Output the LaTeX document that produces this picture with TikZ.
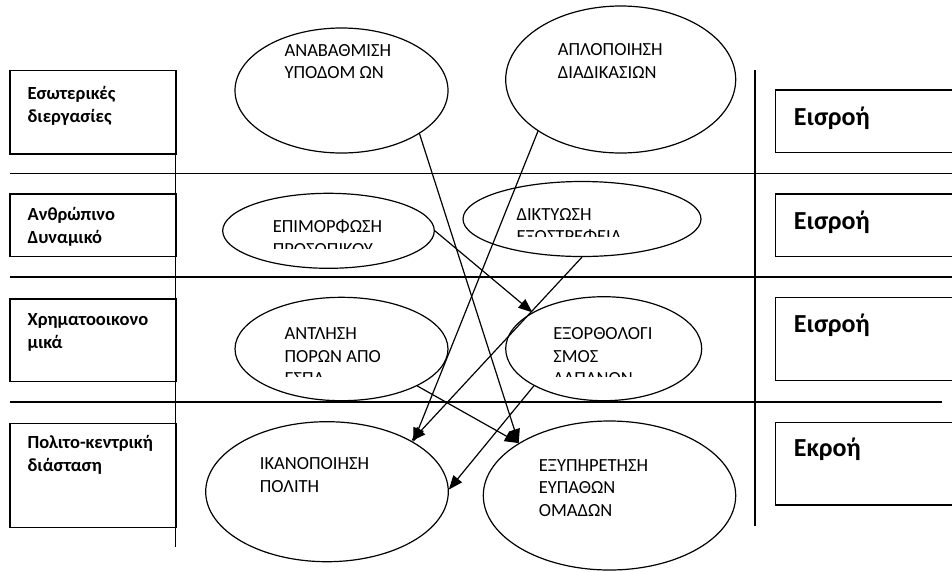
\documentclass[tikz,border=0pt]{standalone}
\usepackage{fontspec}
\setmainfont{Carlito}
\usetikzlibrary{shapes.geometric,arrows.meta}

\tikzset{
  goal/.style={ellipse, draw, inner sep=0pt},
  goaltext/.style={anchor=base west, align=left, inner sep=0pt, font=\fontsize{18.5}{22.7}\selectfont},
  sidebox/.style={rectangle, draw, anchor=north west, inner sep=0pt},
  sidetext/.style={anchor=base west, align=left, inner sep=0pt, font=\bfseries\fontsize{18.5}{23}\selectfont},
  flowtext/.style={anchor=base west, inner sep=0pt, font=\bfseries\fontsize{26}{30}\selectfont},
  link/.style={-{Triangle[length=14pt,width=11pt]}}
}

\begin{document}
\begin{tikzpicture}[x=1pt, y=-1pt, line width=1.2pt]
        \useasboundingbox (0,0) rectangle (952,571);

        % lanes
        \draw (10,173.3) -- (952,173.3);
        \draw (10,277) -- (952,277);
        \draw (10,402) -- (942,402);
        \draw (175.7,70) -- (175.7,547);
        \draw (755,70) -- (755,526);

        % left column
        \node[sidebox, minimum width=166.4pt, minimum height=83.3pt] (box1) at (9.3,70) {};
        \node[sidebox, minimum width=166.4pt, minimum height=62.7pt] (box2) at (9.3,193.3) {};
        \node[sidebox, minimum width=166.4pt, minimum height=82.7pt] (box3) at (9.3,298.3) {};
        \node[sidebox, minimum width=166.4pt, minimum height=104pt] (box4) at (9.3,422.7) {};
        % (base of a two-line node = its last line)
        \node[sidetext] (lab1) at (27,122.3) {Εσωτερικές\\διεργασίες};
        \node[sidetext] (lab2) at (27,243.7) {Ανθρώπινο\\Δυναμικό};
        \node[sidetext] (lab3) at (27,348) {Χρηματοοικονο\\μικά};
        \node[sidetext] (lab4) at (27,471.3) {Πολιτο-κεντρική\\διάσταση};

        % right column
        \node[sidebox, minimum width=190pt, minimum height=62.4pt] (inBox1) at (775,89.3) {};
        \node[sidebox, minimum width=190pt, minimum height=62.7pt] (inBox2) at (775,193.3) {};
        \node[sidebox, minimum width=190pt, minimum height=83.3pt] (inBox3) at (775,296.7) {};
        \node[sidebox, minimum width=190pt, minimum height=82.6pt] (outBox) at (775,421.7) {};
        \node[flowtext] (in1) at (793.3,125) {Εισροή};
        \node[flowtext] (in2) at (793.3,229.3) {Εισροή};
        \node[flowtext] (in3) at (793.3,332.7) {Εισροή};
        \node[flowtext] (out) at (793.3,456.7) {Εκροή};

        % goals
        \node[goal, minimum width=213pt, minimum height=125pt] (e1) at (341.5,90.5) {};
        \node[goal, minimum width=230pt, minimum height=147pt] (e2) at (620.7,79.5) {};
        \node[goal, minimum width=211.6pt, minimum height=75pt] (e3) at (328.5,230.8) {};
        \node[goal, minimum width=238pt, minimum height=75pt] (e4) at (582,219) {};
        \node[goal, minimum width=213pt, minimum height=103.4pt] (e5) at (341.5,349) {};
        \node[goal, minimum width=196pt, minimum height=104pt] (e6) at (603.7,348.7) {};
        \node[goal, minimum width=242.6pt, minimum height=140pt] (e7) at (327,491.7) {};
        \node[goal, minimum width=252.4pt, minimum height=149pt] (e8) at (609.5,495.5) {};

        \node[goaltext] (t1) at (284,78.7) {ΑΝΑΒΑΘΜΙΣΗ\\ΥΠΟΔΟΜ ΩΝ};
        \node[goaltext] (t2) at (557.3,78.4) {ΑΠΛΟΠΟΙΗΣΗ\\ΔΙΑΔΙΚΑΣΙΩΝ};
        \begin{scope}
          \clip (250,200) rectangle (460,248.3);
          \node[goaltext] (t3) at (272.3,255) {ΕΠΙΜΟΡΦΩΣΗ\\ΠΡΟΣΩΠΙΚΟΥ};
        \end{scope}
        \begin{scope}
          \clip (500,190) rectangle (700,236);
          \node[goaltext] (t4) at (516,242.7) {ΔΙΚΤΥΩΣΗ\\ΕΞΩΣΤΡΕΦΕΙΑ};
        \end{scope}
        \begin{scope}
          \clip (270,310) rectangle (440,376.7);
          \node[goaltext] (t5) at (284,384.7) {ΑΝΤΛΗΣΗ\\ΠΟΡΩΝ ΑΠΟ\\ΕΣΠΆ};
        \end{scope}
        \begin{scope}
          \clip (540,310) rectangle (700,376.7);
          \node[goaltext] (t6) at (552.7,384.7) {ΕΞΟΡΘΟΛΟΓΙ\\ΣΜΟΣ\\ΔΑΠΑΝΩΝ};
        \end{scope}
        \node[goaltext] (t7) at (259.3,492) {ΙΚΑΝΟΠΟΙΗΣΗ\\ΠΟΛΙΤΗ};
        \node[goaltext] (t8) at (538.3,516.4) {ΕΞΥΠΗΡΕΤΗΣΗ\\ΕΥΠΑΘΩΝ\\ΟΜΑΔΩΝ};

        % links
        \draw (e1.-29) edge[link] (e8.150);
        \draw (e2.212.6) edge[link] (e7.30);
        \draw (e3.0) edge[link] (e6.153);
        \draw (e4.-90) edge[link] (e7.31);
        \draw (e5.-26) edge[link] (e8.150);
        \draw (e6.208.5) edge[link] (e7.1);
\end{tikzpicture}
\end{document}
